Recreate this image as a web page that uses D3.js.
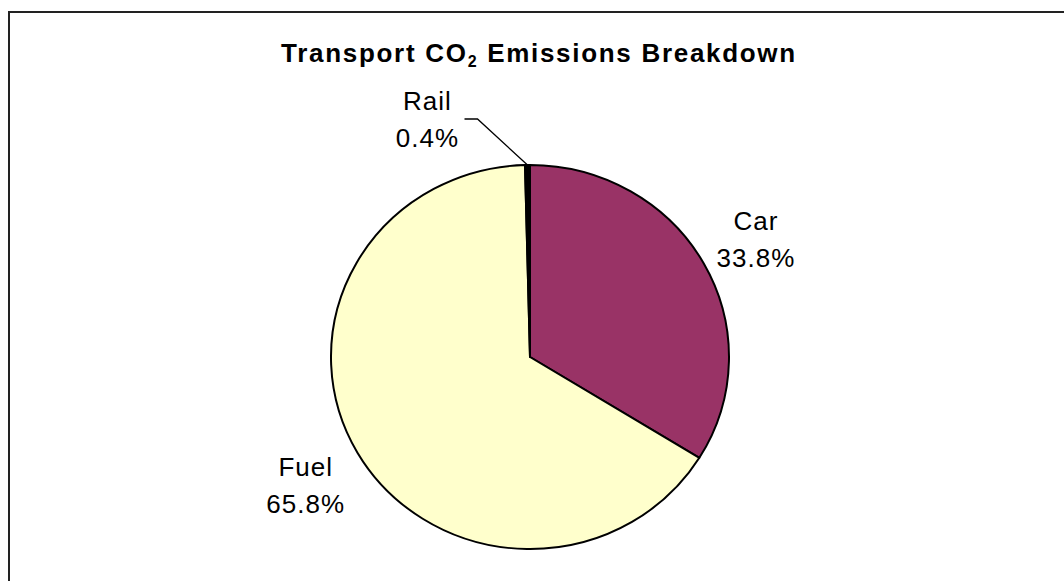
<!DOCTYPE html>
<html>
<head>
<meta charset="utf-8">
<script src="https://cdn.jsdelivr.net/npm/d3@7"></script>
<style>
    body { margin: 0; background: #fff; }
    svg { display: block; }
    text { font-family: "Liberation Sans", Arial, sans-serif; fill: #000; }
</style>
</head>
<body>
<svg></svg>
<script>
const width = 1064;
const height = 581;

// chart data
const categories = ['Car', 'Fuel', 'Rail'];
const shares = [33.8, 65.8, 0.4];
const sliceColors = ['#993366', '#FFFFCC', '#000000'];

const center = [530, 357];
const radius = 199;
const squash = 0.965;   // the original pie is a touch flatter than round

const svg = d3.select('svg')
    .attr('width', width).attr('height', height);

// chart area frame (runs off the right and bottom of the picture)
svg.append('rect')
    .attr('x', 9).attr('y', 12)
    .attr('width', width + 20).attr('height', height + 20)
    .attr('fill', '#fff')
    .attr('stroke', '#222')
    .attr('stroke-width', 2);

// title with subscript 2
const title = svg.append('text')
    .attr('x', 539).attr('y', 62)
    .attr('text-anchor', 'middle')
    .style('font-size', '26px')
    .style('font-weight', 'bold')
    .style('letter-spacing', '1.7px');
title.append('tspan').text('Transport CO');
title.append('tspan').attr('dy', 5).style('font-size', '16px').text('2');
title.append('tspan').attr('dy', -5).text(' Emissions Breakdown');

const data = categories.map((c, i) => ({ name: c, value: shares[i], color: sliceColors[i] }));

const pie = d3.pie().sort(null).value(d => d.value);
const arcs = pie(data);

const arc = d3.arc().innerRadius(0).outerRadius(radius);
const labelArc = d3.arc().innerRadius(radius * 1.3).outerRadius(radius * 1.3);
const edgeArc = d3.arc().innerRadius(radius).outerRadius(radius);

const pieGroup = svg.append('g')
    .attr('transform', `translate(${center[0]},${center[1]}) scale(1,${squash})`);

pieGroup.selectAll('.slice')
    .data(arcs)
    .enter().append('path')
    .attr('class', 'slice')
    .attr('d', arc)
    .style('fill', d => d.data.color)
    .style('stroke', '#000')
    .style('stroke-width', 2)
    .style('stroke-linejoin', 'round');

// labels
const toScreen = ([x, y]) => [center[0] + x, center[1] + y * squash];

arcs.forEach(d => {
    let pos;
    if (d.data.value < 1) {
        // tiny slice: label pulled out with a leader line
        const edge = toScreen(edgeArc.centroid(d));
        const elbow = [edge[0] - 50, edge[1] - 46];
        svg.append('polyline')
            .attr('points', [[elbow[0] - 13, elbow[1]], elbow, edge].map(p => p.join(',')).join(' '))
            .attr('fill', 'none')
            .attr('stroke', '#000')
            .attr('stroke-width', 1.3);
        pos = [elbow[0] - 50, elbow[1] - 4];
    } else {
        pos = toScreen(labelArc.centroid(d));
    }
    const t = svg.append('text')
        .attr('text-anchor', 'middle')
        .style('font-size', '26px')
        .style('letter-spacing', '1px');
    t.append('tspan').attr('x', pos[0]).attr('y', pos[1] - 5).text(d.data.name);
    t.append('tspan').attr('x', pos[0]).attr('y', pos[1] + 32).text(d.data.value.toFixed(1) + '%');
});
</script>
</body>
</html>
